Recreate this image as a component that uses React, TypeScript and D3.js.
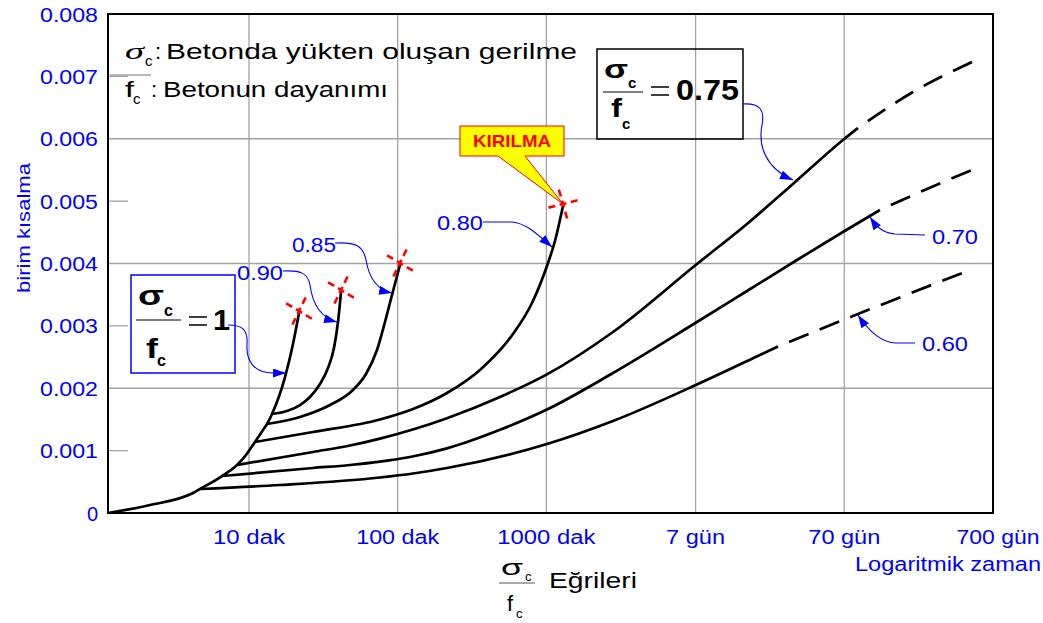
import React from 'react';
import * as d3 from 'd3';

const W = 1043;
const H = 623;

// x axis: logarithmic time in minutes
const timeTicks = [10, 100, 1000, 10080, 100800, 1008000];
const timeLabels = ['10 dak', '100 dak', '1000 dak', '7 gün', '70 gün', '700 gün'];
const timeLabelWidths = [72, 83, 98, 59, 72, 83];
const timeLabelShift = [0, 0, 0, 0, 0, 5];

// y axis: strain
const strainMajor = [0.002, 0.004, 0.006];
const strainMinor = [0.001, 0.003, 0.005, 0.007];
const strainTicks = [0, 0.001, 0.002, 0.003, 0.004, 0.005, 0.006, 0.007, 0.008];
const strainLabels = ['0', '0.001', '0.002', '0.003', '0.004', '0.005', '0.006', '0.007', '0.008'];

// curves: [minutes, strain]
const curve100: [number, number][] = [
  [1.127, 0], [2.16, 0.000128], [4.203, 0.000321], [4.684, 0.000385], [6.585, 0.000593],
  [8.307, 0.00077], [9.548, 0.00093], [10.97, 0.001138], [12.42, 0.001331], [13.22, 0.001427],
  [14.28, 0.001587], [17.47, 0.00218], [19.77, 0.00271], [21.7, 0.003206],
];
const curve090: [number, number][] = [
  [14.28, 0.001587], [18.02, 0.001635], [22.03, 0.001731], [25.72, 0.00186], [30.03, 0.002068],
  [33.99, 0.002325], [37.29, 0.002645], [39.68, 0.003062], [41.58, 0.003543],
];
const curve085: [number, number][] = [
  [13.22, 0.001427], [22.03, 0.001539], [35.05, 0.001731], [50.05, 0.001972], [61.21, 0.002228],
  [72.57, 0.002613], [82.13, 0.003062], [91.56, 0.003495], [103.6, 0.003976],
];
const curve080: [number, number][] = [
  [10.97, 0.001138], [26.94, 0.001299], [76.03, 0.001499], [126.8, 0.001667], [214.6, 0.001924],
  [357.6, 0.002293], [596.1, 0.00287], [800.2, 0.003367], [1009, 0.00396], [1142, 0.004361],
  [1293, 0.004922],
];
const curve075Solid: [number, number][] = [
  [8.307, 0.00077], [26.94, 0.000978], [47.78, 0.001082], [76.03, 0.001193], [214.6, 0.00152],
  [487.4, 0.00186], [1009, 0.002222], [2804, 0.002902], [10292, 0.003992], [22330, 0.004633],
  [45510, 0.005275], [98700, 0.00598], [124500, 0.006172],
];
const curve075Dashed: [number, number][] = [
  [124500, 0.006172], [291700, 0.006749], [727600, 0.00723],
];
const curve070Solid: [number, number][] = [
  [6.585, 0.000593], [26.94, 0.000721], [47.78, 0.00077], [76.03, 0.000824], [121.0, 0.000898],
  [214.6, 0.001036], [487.4, 0.001334], [1009, 0.001659], [2804, 0.002244], [10292, 0.003062],
  [22330, 0.003559], [48420, 0.004056], [98700, 0.004505], [175100, 0.004858],
];
const curve070Dashed: [number, number][] = [
  [175100, 0.004858], [362500, 0.005194], [727600, 0.005499],
];
const curve060Solid: [number, number][] = [
  [4.684, 0.000385], [16.16, 0.000449], [76.03, 0.000569], [126.8, 0.000633], [214.6, 0.000721],
  [1009, 0.001106], [2804, 0.001475], [10292, 0.00206], [27320, 0.002533], [36080, 0.002669],
];
const curve060Dashed: [number, number][] = [
  [36080, 0.002669], [115300, 0.003158], [705400, 0.003896],
];

const BLUE = '#0000FF';
const GRID = '#A3A3A3';
const SANS = "'Liberation Sans', Arial, Helvetica, sans-serif";

function T(props: any) {
  const { x, y, len, size = 20, fill = BLUE, anchor = 'start', weight = 'normal', family = SANS, italic, children, transform } = props;
  return (
    <text
      x={x}
      y={y}
      fontSize={size}
      fill={fill}
      textAnchor={anchor}
      fontWeight={weight}
      fontFamily={family}
      fontStyle={italic ? 'italic' : 'normal'}
      textLength={len}
      lengthAdjust={len ? 'spacingAndGlyphs' : undefined}
      transform={transform}
    >
      {children}
    </text>
  );
}

function RedX({ cx, cy, a1, a2, half = 15 }: any) {
  const seg = (a: number) => {
    const r = (a * Math.PI) / 180;
    const dx = Math.cos(r) * half;
    const dy = Math.sin(r) * half;
    return (
      <line
        x1={cx - dx}
        y1={cy - dy}
        x2={cx + dx}
        y2={cy + dy}
        stroke="#FF0000"
        strokeWidth={2.6}
        strokeDasharray="7 4.5"
      />
    );
  };
  return (
    <g>
      {seg(a1)}
      {seg(a2)}
    </g>
  );
}

export default function App() {
  const x = d3.scaleLog().domain([1.127, 1008000]).range([108, 993]);
  const y = d3.scaleLinear().domain([0, 0.008]).range([513, 14]);
  const line = d3
    .line<[number, number]>()
    .x((d) => x(d[0]))
    .y((d) => y(d[1]))
    .curve(d3.curveMonotoneX);

  const solids = [curve100, curve090, curve085, curve080, curve075Solid, curve070Solid, curve060Solid];
  const dashed = [curve075Dashed, curve070Dashed, curve060Dashed];
  const last = (c: [number, number][]) => c[c.length - 1];
  const ends = [curve100, curve090, curve085].map(last);
  const e80 = last(curve080);

  return (
    <svg width={W} height={H} style={{ position: 'absolute', left: 0, top: 0, background: '#fff' }}>
      <defs>
        <marker id="ah" viewBox="0 0 13 9" refX="13" refY="4.5" markerWidth="13" markerHeight="9" markerUnits="userSpaceOnUse" orient="auto">
          <path d="M0,0 L13,4.5 L0,9 Z" fill={BLUE} />
        </marker>
      </defs>
      <rect x={0} y={0} width={W} height={H} fill="#fff" />

      {/* grid */}
      {timeTicks.slice(0, 5).map((t) => (
        <line key={t} x1={x(t)} x2={x(t)} y1={y(0.008)} y2={y(0)} stroke={GRID} strokeWidth={1.3} />
      ))}
      {strainMajor.map((v) => (
        <line key={v} x1={x(1.127)} x2={x(1008000)} y1={y(v)} y2={y(v)} stroke={GRID} strokeWidth={1.3} />
      ))}
      {strainMinor.map((v) => (
        <line key={v} x1={x(1.127)} x2={x(1.127) + 20} y1={y(v)} y2={y(v)} stroke={GRID} strokeWidth={1.3} />
      ))}

      {/* frame */}
      <rect x={108} y={14} width={885} height={499} fill="none" stroke="#000" strokeWidth={2} />

      {/* y labels */}
      {strainTicks.map((v, i) => (
        <T key={v} x={98} y={y(v) + 7.5} anchor="end" size={20} len={strainLabels[i].length > 1 ? 58 : undefined}>
          {strainLabels[i]}
        </T>
      ))}
      <T x={0} y={0} anchor="middle" size={19} len={130} transform="translate(30,228) rotate(-90)">
        birim kısalma
      </T>

      {/* x labels */}
      {timeTicks.map((t, i) => (
        <T key={t} x={x(t) + timeLabelShift[i]} y={544} anchor="middle" size={20} len={timeLabelWidths[i]}>
          {timeLabels[i]}
        </T>
      ))}
      <T x={1041} y={571} anchor="end" size={20} len={186}>
        Logaritmik zaman
      </T>

      {/* bottom title */}
      <T x={501} y={575} size={22} fill="#000" len={22}>σ</T>
      <T x={525} y={581} size={13} fill="#000">c</T>
      <line x1={499} x2={535} y1={583} y2={583} stroke="#555" strokeWidth={1.2} />
      <T x={507} y={611} size={22} fill="#000">f</T>
      <T x={516} y={618} size={13} fill="#000">c</T>
      <T x={549} y={588} size={22} fill="#000" len={88}>Eğrileri</T>

      {/* curves */}
      {solids.map((c, i) => (
        <path key={'s' + i} d={line(c) || ''} fill="none" stroke="#000" strokeWidth={2.7} strokeLinejoin="round" />
      ))}
      {dashed.map((c, i) => (
        <path key={'d' + i} d={line(c) || ''} fill="none" stroke="#000" strokeWidth={2.7} strokeDasharray="21 12" strokeDashoffset={21} />
      ))}

      {/* red failure marks */}
      {ends.map((p, i) => (
        <RedX key={i} cx={x(p[0])} cy={y(p[1]) - 2} a1={31} a2={-64} />
      ))}

      {/* KIRILMA callout */}
      <path
        d={`M460,126 H564 V156 H525 L${x(e80[0])},${y(e80[1]) - 2} L498,156 H460 Z`}
        fill="#FFFF00"
        stroke="#FF0000"
        strokeWidth={1}
      />
      <T x={512} y={147} anchor="middle" size={17} weight="bold" fill="#FF0000" len={78}>KIRILMA</T>
      <RedX cx={x(e80[0])} cy={y(e80[1]) - 2} a1={-14} a2={74} />

      {/* top-left legend */}
      <T x={125} y={59} size={23} fill="#000" italic family="'Liberation Serif', 'Times New Roman', serif" len={19}>σ</T>
      <T x={145} y={66} size={15} fill="#000">c</T>
      <T x={155} y={59} size={22} fill="#000">:</T>
      <T x={166} y={59} size={22} fill="#000" len={411}>Betonda yükten oluşan gerilme</T>
      <line x1={110} x2={151} y1={75} y2={75} stroke={GRID} strokeWidth={1.3} />
      <T x={125} y={97} size={22} fill="#000" len={9}>f</T>
      <T x={133} y={104} size={15} fill="#000">c</T>
      <T x={151} y={97} size={22} fill="#000">:</T>
      <T x={163} y={97} size={22} fill="#000" len={225}>Betonun dayanımı</T>

      {/* box sigma/f = 1 */}
      <rect x={131} y={275} width={104} height={98} fill="none" stroke={BLUE} strokeWidth={1.5} />
      <T x={138} y={305} size={28} weight="bold" fill="#000" len={26}>σ</T>
      <T x={164} y={316} size={16} weight="bold" fill="#000">c</T>
      <line x1={136} x2={181} y1={320} y2={320} stroke="#000" strokeWidth={1.2} />
      <T x={146} y={358} size={28} weight="bold" fill="#000" len={12}>f</T>
      <T x={157} y={366} size={16} weight="bold" fill="#000">c</T>
      <line x1={189} x2={207} y1={317} y2={317} stroke="#000" strokeWidth={1.5} />
      <line x1={189} x2={207} y1={325} y2={325} stroke="#000" strokeWidth={1.5} />
      <T x={213} y={330} size={29} weight="bold" fill="#000" len={17}>1</T>

      {/* box sigma/f = 0.75 */}
      <rect x={597} y={49} width={146} height={90} fill="none" stroke="#000" strokeWidth={1.5} />
      <T x={604} y={78} size={25} weight="bold" fill="#000" len={24}>σ</T>
      <T x={628} y={88} size={15} weight="bold" fill="#000">c</T>
      <line x1={603} x2={643} y1={92} y2={92} stroke="#000" strokeWidth={1.2} />
      <T x={611} y={117} size={25} weight="bold" fill="#000" len={11}>f</T>
      <T x={622} y={129} size={15} weight="bold" fill="#000">c</T>
      <line x1={651} x2={669} y1={87} y2={87} stroke="#000" strokeWidth={1.5} />
      <line x1={651} x2={669} y1={95} y2={95} stroke="#000" strokeWidth={1.5} />
      <T x={676} y={100} size={30} weight="bold" fill="#000" len={63}>0.75</T>

      {/* labels */}
      <T x={237} y={280} size={20} len={46}>0.90</T>
      <T x={292} y={252} size={20} len={44}>0.85</T>
      <T x={437} y={230} size={20} len={46}>0.80</T>
      <T x={932} y={244} size={20} len={46}>0.70</T>
      <T x={922} y={351} size={20} len={46}>0.60</T>

      {/* leaders */}
      <g fill="none" stroke={BLUE} strokeWidth={1.1} markerEnd="url(#ah)">
        <path d="M228,325 C243,325 248,330 247,345 C246,362 255,373 273,373 L286,373" />
        <path d="M283,271 C300,270 308,273 310,285 C312,300 318,317 337,322" />
        <path d="M335,243 C355,242 363,245 366,260 C369,278 378,290 392,293" />
        <path d="M483,222 L512,222 C525,223 535,232 552,247" />
        <path d="M743,104 C760,103 765,110 762,125 C758,145 765,168 793,180" />
        <path d="M925,235 L895,234 C882,233 876,226 870,217" />
        <path d="M915,343 L895,343 C880,342 868,330 858,315" />
      </g>
    </svg>
  );
}
